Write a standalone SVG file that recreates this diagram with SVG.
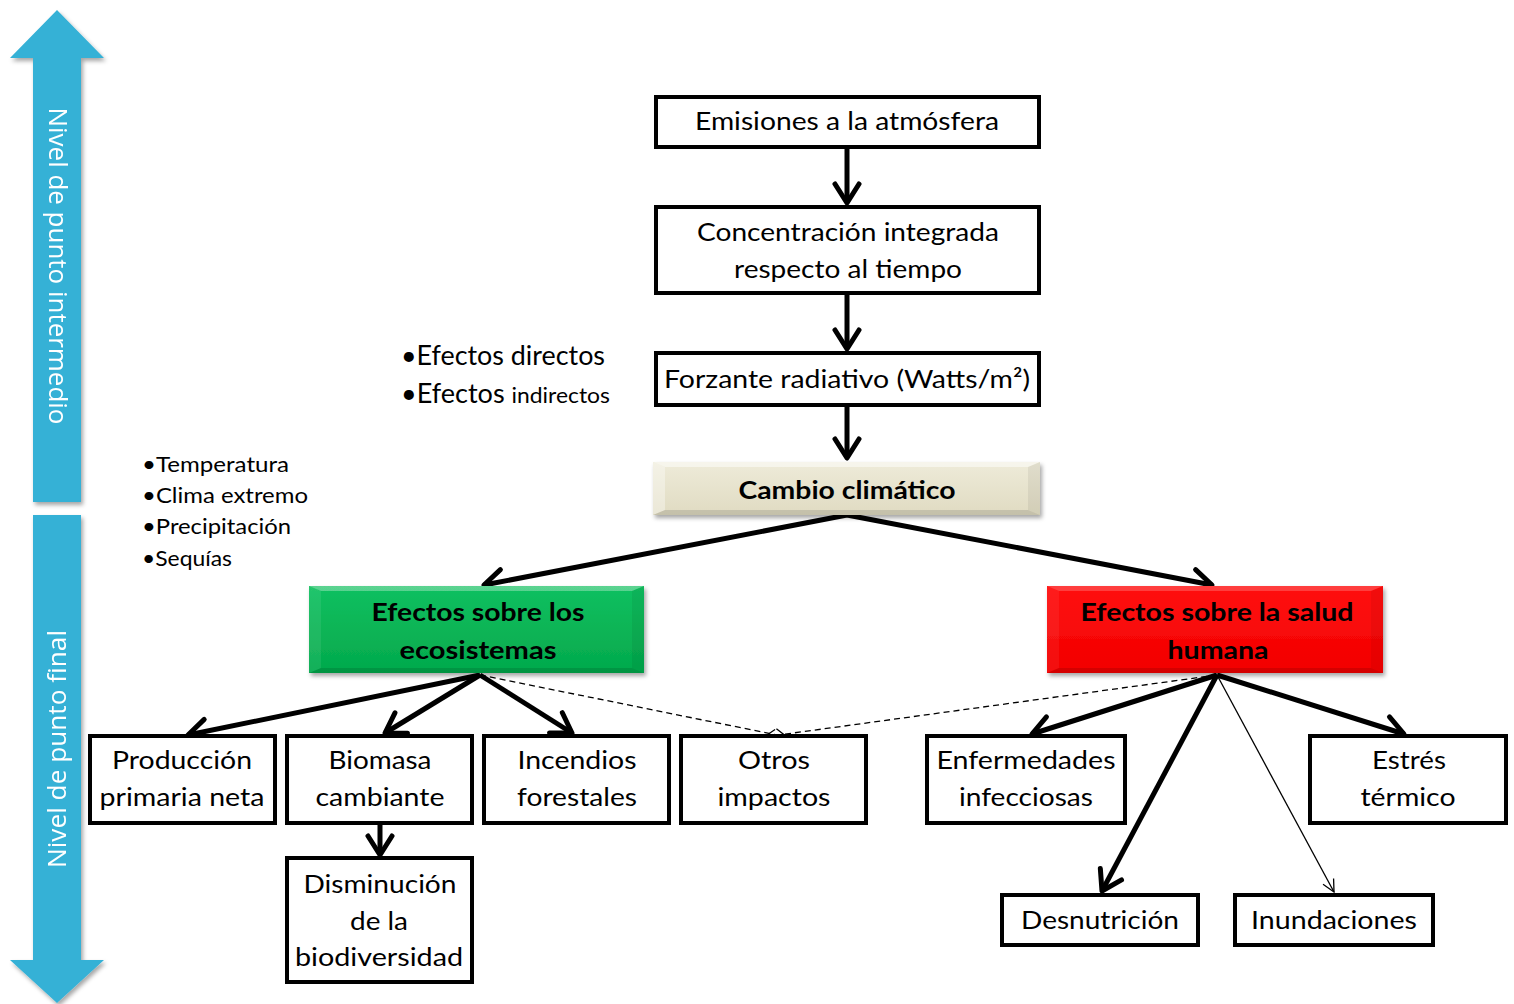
<svg xmlns="http://www.w3.org/2000/svg" width="1514" height="1004" viewBox="0 0 1514 1004">
  <defs>
    <style>
      .box { fill: #fff; stroke: #000; stroke-width: 4; }
      .t { font-family: Lato, "Liberation Sans", sans-serif; font-size: 25px; fill: #000; text-anchor: middle; }
      .tb { font-family: Lato, "Liberation Sans", sans-serif; font-size: 25px; font-weight: bold; fill: #000; text-anchor: middle; }
      .note { font-family: Lato, "Liberation Sans", sans-serif; font-size: 26px; fill: #000; }
      .small { font-family: Lato, "Liberation Sans", sans-serif; font-size: 21px; fill: #000; }
      .axis { font-family: "Open Sans", "Liberation Sans", sans-serif; font-size: 26px; fill: #fff; text-anchor: middle; }
      .thick { fill: none; stroke: #000; stroke-width: 5; marker-end: url(#ah); }
      .thin { fill: none; stroke: #000; stroke-width: 1.3; marker-end: url(#ahThin); }
      .dash { fill: none; stroke: #000; stroke-width: 1.3; stroke-dasharray: 6 4; marker-end: url(#ahThin); }
      .hi { fill: #fff; }
      .lo { fill: #000; }
    </style>
    <marker id="ah" markerUnits="userSpaceOnUse" viewBox="-26 -18 30 36" refX="0" refY="0" markerWidth="30" markerHeight="36" orient="auto">
      <path d="M-19,-12 L0,0 L-19,12" fill="none" stroke="#000" stroke-width="5" stroke-linecap="round" stroke-linejoin="round"/>
    </marker>
    <marker id="ahThin" markerUnits="userSpaceOnUse" viewBox="-14 -10 16 20" refX="0" refY="0" markerWidth="16" markerHeight="20" orient="auto">
      <path d="M-12,-6 L0,0 L-12,6" fill="none" stroke="#000" stroke-width="1.3"/>
    </marker>
    <filter id="shadow" x="-10%" y="-20%" width="120%" height="150%">
      <feDropShadow dx="2" dy="3" stdDeviation="2" flood-color="#000" flood-opacity="0.35"/>
    </filter>
    <linearGradient id="gBeige" x1="0" y1="0" x2="0" y2="1">
      <stop offset="0" stop-color="#eeebd9"/>
      <stop offset="1" stop-color="#e0dbc2"/>
    </linearGradient>
    <linearGradient id="gGreen" x1="0" y1="0" x2="0" y2="1">
      <stop offset="0" stop-color="#12c060"/>
      <stop offset="1" stop-color="#03a94c"/>
    </linearGradient>
    <linearGradient id="gRed" x1="0" y1="0" x2="0" y2="1">
      <stop offset="0" stop-color="#ff1010"/>
      <stop offset="1" stop-color="#f20000"/>
    </linearGradient>
  </defs>

  <rect width="1514" height="1004" fill="#fff"/>

  <!-- vertical level arrows -->
  <g id="axis-intermediate" filter="url(#shadow)">
    <polygon points="57,10 104,58 81,58 81,502 33,502 33,58 10,58" fill="#36b1d6"/>
    <text class="axis" transform="translate(49,266) rotate(90)" textLength="317" lengthAdjust="spacingAndGlyphs">Nivel de punto intermedio</text>
  </g>
  <g id="axis-final" filter="url(#shadow)">
    <polygon points="33,515 81,515 81,960 104,960 57,1003 10,960 33,960" fill="#36b1d6"/>
    <text class="axis" transform="translate(66,749) rotate(-90)" textLength="238" lengthAdjust="spacingAndGlyphs">Nivel de punto final</text>
  </g>

  <!-- side notes -->
  <g id="notes-forcing">
    <text class="note" x="401" y="365" textLength="204" lengthAdjust="spacingAndGlyphs">•Efectos directos</text>
    <text class="note" x="401" y="403" textLength="209" lengthAdjust="spacingAndGlyphs">•Efectos <tspan font-size="22px">indirectos</tspan></text>
  </g>
  <g id="notes-climate">
    <text class="small" x="142" y="472" textLength="147" lengthAdjust="spacingAndGlyphs">•Temperatura</text>
    <text class="small" x="142" y="503" textLength="166" lengthAdjust="spacingAndGlyphs">•Clima extremo</text>
    <text class="small" x="142" y="534" textLength="149" lengthAdjust="spacingAndGlyphs">•Precipitación</text>
    <text class="small" x="142" y="566" textLength="90" lengthAdjust="spacingAndGlyphs">•Sequías</text>
  </g>

  <!-- connectors -->
  <g id="connectors">
    <path class="thick" d="M847,149 L847,203"/>
    <path class="thick" d="M847,295 L847,349"/>
    <path class="thick" d="M847,407 L847,458"/>
    <path class="thick" d="M847,515 L484,585"/>
    <path class="thick" d="M847,515 L1212,585"/>
    <path class="thick" d="M480,675 L188,735"/>
    <path class="thick" d="M480,675 L385,733"/>
    <path class="thick" d="M480,675 L572,733"/>
    <path class="dash" d="M480,675 L787,737"/>
    <path class="dash" d="M1217,675 L764,737"/>
    <path class="thick" d="M1217,675 L1032,734"/>
    <path class="thick" d="M1217,675 L1102,891"/>
    <path class="thin" d="M1217,675 L1334,892"/>
    <path class="thick" d="M1217,675 L1404,734"/>
    <path class="thick" d="M380,825 L380,855"/>
  </g>

  <!-- top chain -->
  <g id="emisiones">
    <rect class="box" x="656" y="97" width="383" height="50"/>
    <text class="t" x="847" y="130" textLength="304" lengthAdjust="spacingAndGlyphs">Emisiones a la atmósfera</text>
  </g>
  <g id="concentracion">
    <rect class="box" x="656" y="207" width="383" height="86"/>
    <text class="t" x="848" y="241" textLength="302" lengthAdjust="spacingAndGlyphs">Concentración integrada</text>
    <text class="t" x="848" y="278" textLength="228" lengthAdjust="spacingAndGlyphs">respecto al tiempo</text>
  </g>
  <g id="forzante">
    <rect class="box" x="656" y="353" width="383" height="52"/>
    <text class="t" x="847" y="388" textLength="366" lengthAdjust="spacingAndGlyphs">Forzante radiativo (Watts/m²)</text>
  </g>

  <!-- climate change -->
  <g id="cambio">
    <g filter="url(#shadow)">
      <rect x="653" y="462" width="387" height="53" fill="url(#gBeige)"/>
    </g>
    <polygon class="hi" opacity="0.5" points="653,462 1040,462 1028,467 665,467"/>
    <polygon class="hi" opacity="0.35" points="653,462 665,467 665,510 653,515"/>
    <polygon class="lo" opacity="0.06" points="1040,462 1028,467 1028,510 1040,515"/>
    <polygon class="lo" opacity="0.12" points="653,515 665,510 1028,510 1040,515"/>
    <text class="tb" x="847" y="499" textLength="217" lengthAdjust="spacingAndGlyphs">Cambio climático</text>
  </g>

  <!-- effect groups -->
  <g id="ecosistemas">
    <g filter="url(#shadow)">
      <rect x="309" y="586" width="335" height="87" fill="url(#gGreen)"/>
    </g>
    <polygon class="hi" opacity="0.3" points="309,586 644,586 632,591 321,591"/>
    <polygon class="hi" opacity="0.08" points="309,586 321,591 321,668 309,673"/>
    <polygon class="lo" opacity="0.06" points="644,586 632,591 632,668 644,673"/>
    <polygon class="lo" opacity="0.12" points="309,673 321,668 632,668 644,673"/>
    <text class="tb" x="478" y="621" textLength="213" lengthAdjust="spacingAndGlyphs">Efectos sobre los</text>
    <text class="tb" x="478" y="659" textLength="157" lengthAdjust="spacingAndGlyphs">ecosistemas</text>
  </g>
  <g id="salud">
    <g filter="url(#shadow)">
      <rect x="1047" y="586" width="336" height="87" fill="url(#gRed)"/>
    </g>
    <polygon class="hi" opacity="0.2" points="1047,586 1383,586 1371,591 1059,591"/>
    <polygon class="hi" opacity="0.06" points="1047,586 1059,591 1059,668 1047,673"/>
    <polygon class="lo" opacity="0.05" points="1383,586 1371,591 1371,668 1383,673"/>
    <polygon class="lo" opacity="0.12" points="1047,673 1059,668 1371,668 1383,673"/>
    <text class="tb" x="1217" y="621" textLength="273" lengthAdjust="spacingAndGlyphs">Efectos sobre la salud</text>
    <text class="tb" x="1218" y="659" textLength="101" lengthAdjust="spacingAndGlyphs">humana</text>
  </g>

  <!-- ecosystem impacts -->
  <g id="produccion">
    <rect class="box" x="90" y="736" width="185" height="87"/>
    <text class="t" x="182" y="769" textLength="140" lengthAdjust="spacingAndGlyphs">Producción</text>
    <text class="t" x="182" y="806" textLength="165" lengthAdjust="spacingAndGlyphs">primaria neta</text>
  </g>
  <g id="biomasa">
    <rect class="box" x="287" y="736" width="185" height="87"/>
    <text class="t" x="380" y="769" textLength="103" lengthAdjust="spacingAndGlyphs">Biomasa</text>
    <text class="t" x="380" y="806" textLength="129" lengthAdjust="spacingAndGlyphs">cambiante</text>
  </g>
  <g id="incendios">
    <rect class="box" x="484" y="736" width="185" height="87"/>
    <text class="t" x="577" y="769" textLength="119" lengthAdjust="spacingAndGlyphs">Incendios</text>
    <text class="t" x="577" y="806" textLength="120" lengthAdjust="spacingAndGlyphs">forestales</text>
  </g>
  <g id="otros">
    <rect class="box" x="681" y="736" width="185" height="87"/>
    <text class="t" x="774" y="769" textLength="72" lengthAdjust="spacingAndGlyphs">Otros</text>
    <text class="t" x="774" y="806" textLength="113" lengthAdjust="spacingAndGlyphs">impactos</text>
  </g>
  <g id="disminucion">
    <rect class="box" x="287" y="858" width="185" height="124"/>
    <text class="t" x="380" y="893" textLength="153" lengthAdjust="spacingAndGlyphs">Disminución</text>
    <text class="t" x="379" y="930" textLength="58" lengthAdjust="spacingAndGlyphs">de la</text>
    <text class="t" x="379" y="966" textLength="168" lengthAdjust="spacingAndGlyphs">biodiversidad</text>
  </g>

  <!-- health impacts -->
  <g id="enfermedades">
    <rect class="box" x="927" y="736" width="198" height="87"/>
    <text class="t" x="1026" y="769" textLength="179" lengthAdjust="spacingAndGlyphs">Enfermedades</text>
    <text class="t" x="1026" y="806" textLength="134" lengthAdjust="spacingAndGlyphs">infecciosas</text>
  </g>
  <g id="estres">
    <rect class="box" x="1310" y="736" width="196" height="87"/>
    <text class="t" x="1409" y="769" textLength="74" lengthAdjust="spacingAndGlyphs">Estrés</text>
    <text class="t" x="1408" y="806" textLength="95" lengthAdjust="spacingAndGlyphs">térmico</text>
  </g>
  <g id="desnutricion">
    <rect class="box" x="1002" y="895" width="196" height="50"/>
    <text class="t" x="1100" y="929" textLength="158" lengthAdjust="spacingAndGlyphs">Desnutrición</text>
  </g>
  <g id="inundaciones">
    <rect class="box" x="1235" y="895" width="198" height="50"/>
    <text class="t" x="1334" y="929" textLength="166" lengthAdjust="spacingAndGlyphs">Inundaciones</text>
  </g>
</svg>
